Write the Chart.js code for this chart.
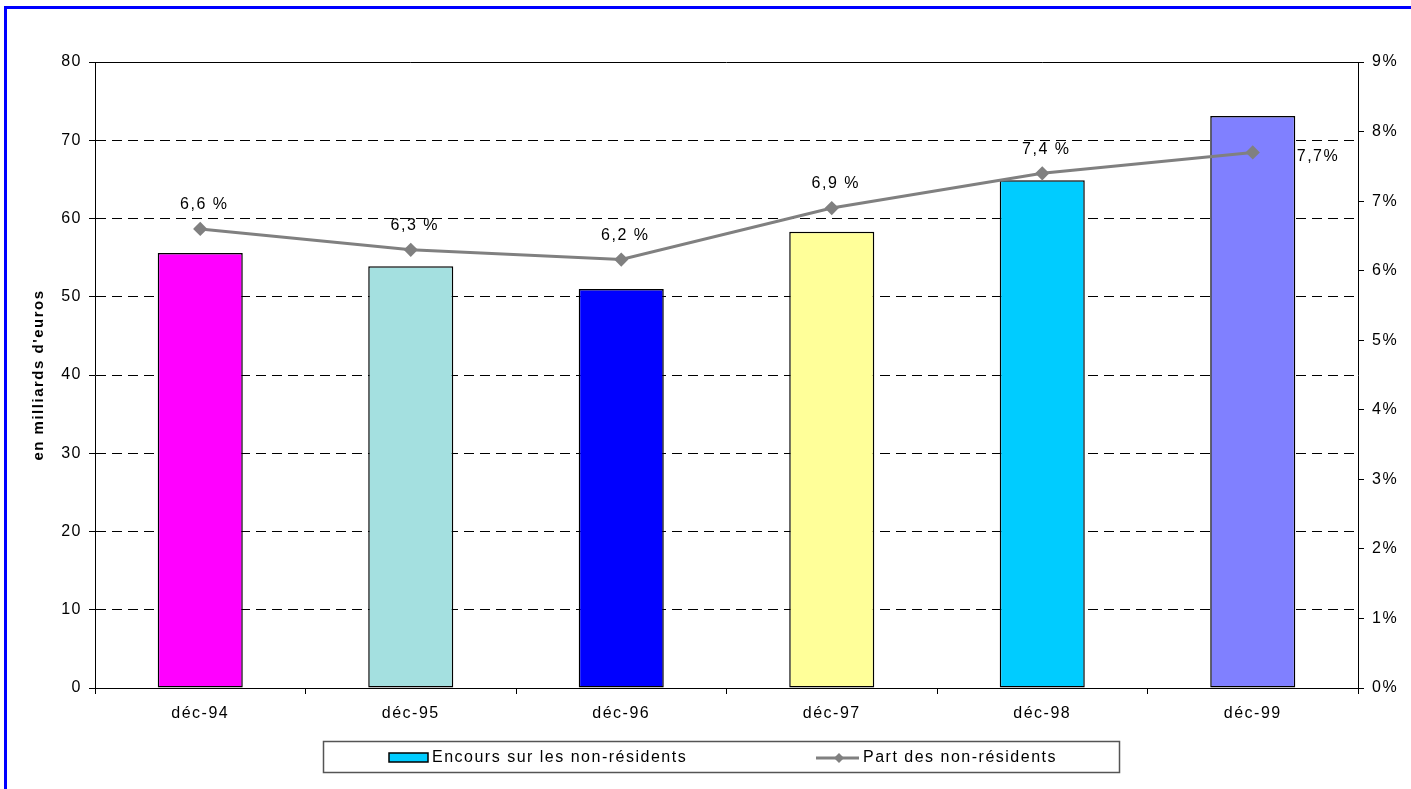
<!DOCTYPE html>
<html>
<head>
<meta charset="utf-8">
<script src="https://cdn.jsdelivr.net/npm/chart.js@4.4.0/dist/chart.umd.min.js"></script>
<style>
  html, body { margin: 0; padding: 0; background: #fff; overflow: hidden; }
  canvas { position: absolute; left: 0; top: 0; }
  #frame { position: absolute; left: 4px; top: 6px; width: 1460px; height: 840px;
           border-left: 3px solid #0000ff; border-top: 3px solid #0000ff; pointer-events: none; }
</style>
</head>
<body>
<canvas id="chart" width="1411" height="789"></canvas>
<div id="frame"></div>
<script>
const months = ["déc-94", "déc-95", "déc-96", "déc-97", "déc-98", "déc-99"];
const encours = [55.6, 53.9, 51.0, 58.3, 64.9, 73.1];
const part = [6.6, 6.3, 6.16, 6.9, 7.4, 7.7];
const partLabels = ["6,6 %", "6,3 %", "6,2 %", "6,9 %", "7,4 %", "7,7%"];
const barColors = ["#ff00ff", "#a4e0e0", "#0000ff", "#ffff99", "#00ccff", "#8080ff"];

const FONT = '"Liberation Sans", Arial, sans-serif';
Chart.defaults.font.family = FONT;
Chart.defaults.font.size = 16;
Chart.defaults.color = "#000";

// Excel-ish wide text
const spacing = {
  id: "spacing",
  beforeDraw(chart) {
    chart.ctx.letterSpacing = "1.5px";
  },
};

// top edge of the plot area
const topLine = {
  id: "topLine",
  beforeDatasetsDraw(chart) {
    const { ctx, chartArea } = chart;
    ctx.save();
    ctx.strokeStyle = "#000";
    ctx.lineWidth = 1;
    ctx.beginPath();
    ctx.moveTo(chartArea.left, chartArea.top + 0.5);
    ctx.lineTo(chartArea.right, chartArea.top + 0.5);
    ctx.stroke();
    ctx.restore();
  },
};

const pointLabels = {
  id: "pointLabels",
  afterDatasetsDraw(chart) {
    const meta = chart.getDatasetMeta(1);
    const ctx = chart.ctx;
    ctx.save();
    ctx.font = "16px " + FONT;
    ctx.fillStyle = "#000";
    ctx.textBaseline = "middle";
    meta.data.forEach((pt, i) => {
      const last = i === meta.data.length - 1;
      ctx.textAlign = last ? "left" : "center";
      if (last) ctx.fillText(partLabels[i], pt.x + 44, pt.y + 4);
      else ctx.fillText(partLabels[i], pt.x + 4, pt.y - 24);
    });
    ctx.restore();
  },
};

const boxLegend = {
  id: "boxLegend",
  afterDraw(chart) {
    const ctx = chart.ctx;
    const ds = chart.data.datasets;
    ctx.save();
    ctx.strokeStyle = "#555";
    ctx.lineWidth = 1.5;
    ctx.strokeRect(323.5, 741.5, 796, 31);

    // bar swatch
    ctx.fillStyle = "#00ccff";
    ctx.fillRect(389, 753, 39, 9);
    ctx.strokeStyle = "#000";
    ctx.lineWidth = 1.5;
    ctx.strokeRect(389, 753, 39, 9);

    // line swatch
    ctx.strokeStyle = "#808080";
    ctx.lineWidth = 3;
    ctx.beginPath();
    ctx.moveTo(816, 758);
    ctx.lineTo(859, 758);
    ctx.stroke();
    ctx.fillStyle = "#808080";
    ctx.beginPath();
    ctx.moveTo(839, 753);
    ctx.lineTo(844, 758);
    ctx.lineTo(839, 763);
    ctx.lineTo(834, 758);
    ctx.closePath();
    ctx.fill();

    ctx.font = "16px " + FONT;
    ctx.fillStyle = "#000";
    ctx.textAlign = "left";
    ctx.textBaseline = "middle";
    ctx.fillText(ds[0].label, 432, 758);
    ctx.fillText(ds[1].label, 863, 758);
    ctx.restore();
  },
};

new Chart(document.getElementById("chart"), {
  type: "bar",
  data: {
    labels: months,
    datasets: [
      {
        type: "bar",
        label: "Encours sur les non-résidents",
        data: encours,
        backgroundColor: barColors,
        borderColor: "#000",
        borderWidth: 1.5,
        borderSkipped: false,
        barPercentage: 0.404,
        categoryPercentage: 1,
        yAxisID: "y",
        order: 2,
      },
      {
        type: "line",
        label: "Part des non-résidents",
        data: part,
        borderColor: "#808080",
        borderWidth: 3,
        backgroundColor: "#808080",
        pointStyle: "rectRot",
        pointRadius: 5,
        pointBackgroundColor: "#808080",
        pointBorderColor: "#808080",
        tension: 0,
        yAxisID: "y2",
        order: 1,
      },
    ],
  },
  options: {
    responsive: false,
    animation: false,
    layout: { padding: { left: 0, right: 0, top: 62, bottom: 61 } },
    plugins: {
      legend: { display: false },
      tooltip: { enabled: false },
    },
    scales: {
      x: {
        grid: { drawOnChartArea: false, color: "#000", tickLength: 6, offset: true },
        border: { color: "#000" },
        ticks: { color: "#000", padding: 10, maxRotation: 0 },
        afterFit(s) { s.height = 40; },
      },
      y: {
        position: "left",
        min: 0,
        max: 80,
        ticks: { stepSize: 10, padding: 7, color: "#000" },
        grid: {
          color: (c) => (c.tick && (c.tick.value === 0 || c.tick.value === 80) ? "transparent" : "#000"),
          tickColor: "#000",
          tickLength: 6,
        },
        border: { color: "#000", dash: [10, 6] },
        title: {
          display: true,
          text: "en milliards d'euros",
          color: "#000",
          font: { size: 15, weight: "bold" },
          padding: { top: 30 },
        },
        afterFit(s) { s.width = 95; },
      },
      y2: {
        position: "right",
        min: 0,
        max: 9,
        ticks: { stepSize: 1, padding: 8, color: "#000", callback: (v) => v + "%" },
        grid: { drawOnChartArea: false, color: "#000", tickLength: 6 },
        border: { color: "#000" },
        afterFit(s) { s.width = 53; },
      },
    },
  },
  plugins: [spacing, topLine, pointLabels, boxLegend],
});
</script>
</body>
</html>
